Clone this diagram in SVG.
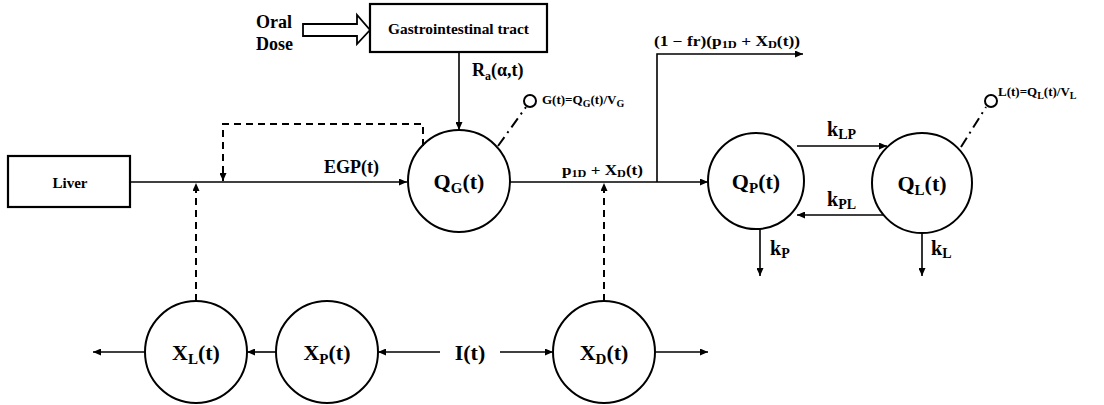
<svg xmlns="http://www.w3.org/2000/svg" width="1104" height="405" viewBox="0 0 1104 405" font-family="'Liberation Serif', 'Times New Roman', Times, serif" font-weight="bold">
  <style>
    .box { fill: #fff; stroke: #000; stroke-width: 2.2; }
    .node { fill: #fff; stroke: #000; stroke-width: 2; }
    .flow { fill: none; stroke: #000; stroke-width: 1.6; }
    .dash { fill: none; stroke: #000; stroke-width: 2; stroke-dasharray: 7 5; }
    .probe { fill: none; stroke: #000; stroke-width: 2; stroke-dasharray: 11 5 2 5; }
    .lbl { font-size: 22px; text-anchor: middle; }
    .mid { font-size: 18px; }
    .sm { font-size: 13px; }
    .math { font-size: 14px; }
    .k { font-size: 20px; }
  </style>
  <defs>
    <marker id="ah" viewBox="0 0 8 7" refX="8" refY="3.5" markerWidth="8" markerHeight="7" markerUnits="userSpaceOnUse" orient="auto">
      <path d="M0,0 L8,3.5 L0,7 z" fill="#000"/>
    </marker>
  </defs>

  <!-- boxes -->
  <g id="liver">
    <rect class="box" x="8" y="156" width="122" height="51"/>
    <text x="70" y="188" font-size="15" text-anchor="middle">Liver</text>
  </g>
  <g id="gi-tract">
    <rect class="box" x="370" y="4" width="177" height="48"/>
    <text x="388" y="34" font-size="15" textLength="141" lengthAdjust="spacingAndGlyphs">Gastrointestinal tract</text>
  </g>
  <g id="oral-dose">
    <text x="256" y="28" class="mid">Oral</text>
    <text x="256" y="50" class="mid">Dose</text>
    <polygon points="303,24 357,24 357,15 370,30 357,44 357,36 303,36" fill="#fff" stroke="#000" stroke-width="1.8"/>
  </g>

  <!-- compartments -->
  <g id="QG">
    <circle class="node" cx="459" cy="181" r="51"/>
    <text class="lbl" x="459" y="189">Q<tspan font-size="15" dy="4">G</tspan><tspan dy="-4">(t)</tspan></text>
  </g>
  <g id="QP">
    <circle class="node" cx="756" cy="181" r="48"/>
    <text class="lbl" x="756" y="189">Q<tspan font-size="15" dy="4">P</tspan><tspan dy="-4">(t)</tspan></text>
  </g>
  <g id="QL">
    <circle class="node" cx="922" cy="183" r="50"/>
    <text class="lbl" x="922" y="191">Q<tspan font-size="15" dy="4">L</tspan><tspan dy="-4">(t)</tspan></text>
  </g>
  <g id="XL">
    <circle class="node" cx="196" cy="352" r="51"/>
    <text class="lbl" x="196" y="360">X<tspan font-size="15" dy="4">L</tspan><tspan dy="-4">(t)</tspan></text>
  </g>
  <g id="XP">
    <circle class="node" cx="327" cy="352" r="51"/>
    <text class="lbl" x="327" y="360">X<tspan font-size="15" dy="4">P</tspan><tspan dy="-4">(t)</tspan></text>
  </g>
  <g id="XD">
    <circle class="node" cx="604" cy="352" r="51"/>
    <text class="lbl" x="604" y="360">X<tspan font-size="15" dy="4">D</tspan><tspan dy="-4">(t)</tspan></text>
  </g>
  <g id="insulin">
    <text class="lbl" x="470" y="360">I(t)</text>
  </g>

  <!-- probes -->
  <g id="G-probe">
    <circle cx="530" cy="101" r="6" fill="#fff" stroke="#000" stroke-width="2"/>
    <text class="sm" x="542" y="104">G(t)=Q<tspan font-size="10" dy="3">G</tspan><tspan dy="-3">(t)/V</tspan><tspan font-size="10" dy="3">G</tspan></text>
  </g>
  <g id="L-probe">
    <circle cx="991" cy="101" r="6" fill="#fff" stroke="#000" stroke-width="2"/>
    <text class="sm" x="998" y="96">L(t)=Q<tspan font-size="10" dy="3">L</tspan><tspan dy="-3">(t)/V</tspan><tspan font-size="10" dy="3">L</tspan></text>
  </g>

  <!-- connectors -->
  <g id="connectors">
    <path class="flow" d="M130,182 H407" marker-end="url(#ah)"/>
    <path class="flow" d="M459,52 V130" marker-end="url(#ah)"/>
    <path class="flow" d="M510,182 H657"/>
    <path class="flow" d="M657,182 H708" marker-end="url(#ah)"/>
    <path class="flow" d="M657,182 V54 H803" marker-end="url(#ah)"/>
    <path class="flow" d="M797,146 H887" marker-end="url(#ah)"/>
    <path class="flow" d="M883,215 H797" marker-end="url(#ah)"/>
    <path class="flow" d="M760,229 V276" marker-end="url(#ah)"/>
    <path class="flow" d="M922,233 V276" marker-end="url(#ah)"/>
    <path class="flow" d="M145,352 H93" marker-end="url(#ah)"/>
    <path class="flow" d="M277,352 H247" marker-end="url(#ah)"/>
    <path class="flow" d="M440,352 H378" marker-end="url(#ah)"/>
    <path class="flow" d="M500,352 H553" marker-end="url(#ah)"/>
    <path class="flow" d="M655,352 H708" marker-end="url(#ah)"/>

    <path class="dash" d="M196,301 V183" marker-end="url(#ah)"/>
    <path class="dash" d="M604,301 V183" marker-end="url(#ah)"/>
    <path class="dash" d="M423,146 V124 H223 V181" marker-end="url(#ah)"/>

    <path class="probe" d="M498,146 L526,107"/>
    <path class="probe" d="M961,147 L986,107"/>

    <text class="mid" x="324" y="173">EGP(t)</text>
    <text class="mid" x="472" y="76">R<tspan font-size="12" dy="4">a</tspan><tspan dy="-4">(α,t)</tspan></text>
    <text class="math" x="562" y="175" textLength="81" lengthAdjust="spacingAndGlyphs">p<tspan font-size="10" dy="2">1D</tspan><tspan dy="-2"> + X</tspan><tspan font-size="10" dy="2">D</tspan><tspan dy="-2">(t)</tspan></text>
    <text class="math" x="654" y="46" textLength="146" lengthAdjust="spacingAndGlyphs">(1 − fr)(p<tspan font-size="10" dy="2">1D</tspan><tspan dy="-2"> + X</tspan><tspan font-size="10" dy="2">D</tspan><tspan dy="-2">(t))</tspan></text>
    <text class="k" x="827" y="136">k<tspan font-size="14" dy="3">LP</tspan></text>
    <text class="k" x="827" y="206">k<tspan font-size="14" dy="3">PL</tspan></text>
    <text class="k" x="770" y="255">k<tspan font-size="14" dy="3">P</tspan></text>
    <text class="k" x="931" y="255">k<tspan font-size="14" dy="3">L</tspan></text>
  </g>
</svg>
